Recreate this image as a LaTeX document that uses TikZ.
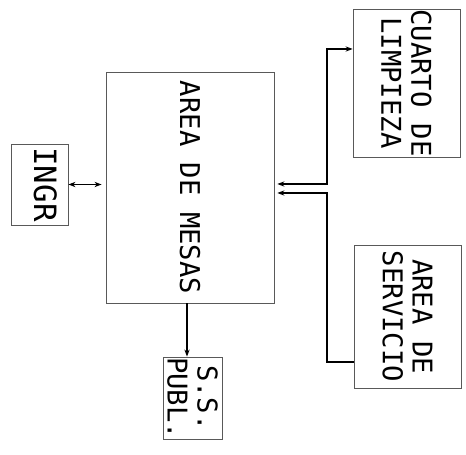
\documentclass[tikz,border=0pt]{standalone}
\usepackage{fontspec}
\newfontfamily\plotfont{DejaVu Sans Mono}
\usetikzlibrary{calc,arrows.meta}

\begin{document}
\begin{tikzpicture}[x=0.02cm, y=-0.02cm, >={Stealth[length=4pt,width=3pt]},
        room/.style={draw=black!65, line width=0.5pt, rectangle, rotate=-90, align=center, inner sep=0pt, font=\plotfont\fontsize{15.5}{17}\selectfont},
        link/.style={line width=0.6pt, color=black}]
        \useasboundingbox (0,0) rectangle (466,455);

        % Rooms (text read top to bottom)
        \node[room, minimum width=4.62cm, minimum height=3.36cm] (mesas) at (190,187.5) {AREA DE MESAS};
        \node[room, minimum width=1.62cm, minimum height=1.14cm, text depth=6.8pt, font=\plotfont\fontsize{17.5}{19}\selectfont] (ingr) at (39.5,184.5) {INGR};
        \node[room, minimum width=2.96cm, minimum height=2.14cm] (limpieza) at (406.5,83) {CUARTO DE\\LIMPIEZA};
        \node[room, minimum width=2.86cm, minimum height=2.14cm] (servicio) at (407.5,316.5) {AREA DE\\SERVICIO};
        \node[room, minimum width=1.64cm, minimum height=1.18cm] (banos) at (192.5,398) {S.S.\\PUBL.};

        % Bends of the links
        \coordinate (lbend) at (327,49);
        \coordinate (sbend) at (327,362);
        \coordinate (drop) at ($(mesas.east)+(-3,0)$);

        % Links
        \draw[link, <->, shorten >=2.3pt] (ingr.north) -- (ingr.north -| mesas.south);
        \draw[link, <->, shorten <=1.7pt] ($(mesas.north)+(0,-3.5)$) -| (lbend) -- (lbend -| limpieza.south);
        \draw[link, <-, shorten <=1.7pt] ($(mesas.north)+(0,5.5)$) -| (sbend) -- (sbend -| servicio.south);
        \draw[link, ->] (drop) -- (drop |- banos.west);
    \end{tikzpicture}
\end{document}
